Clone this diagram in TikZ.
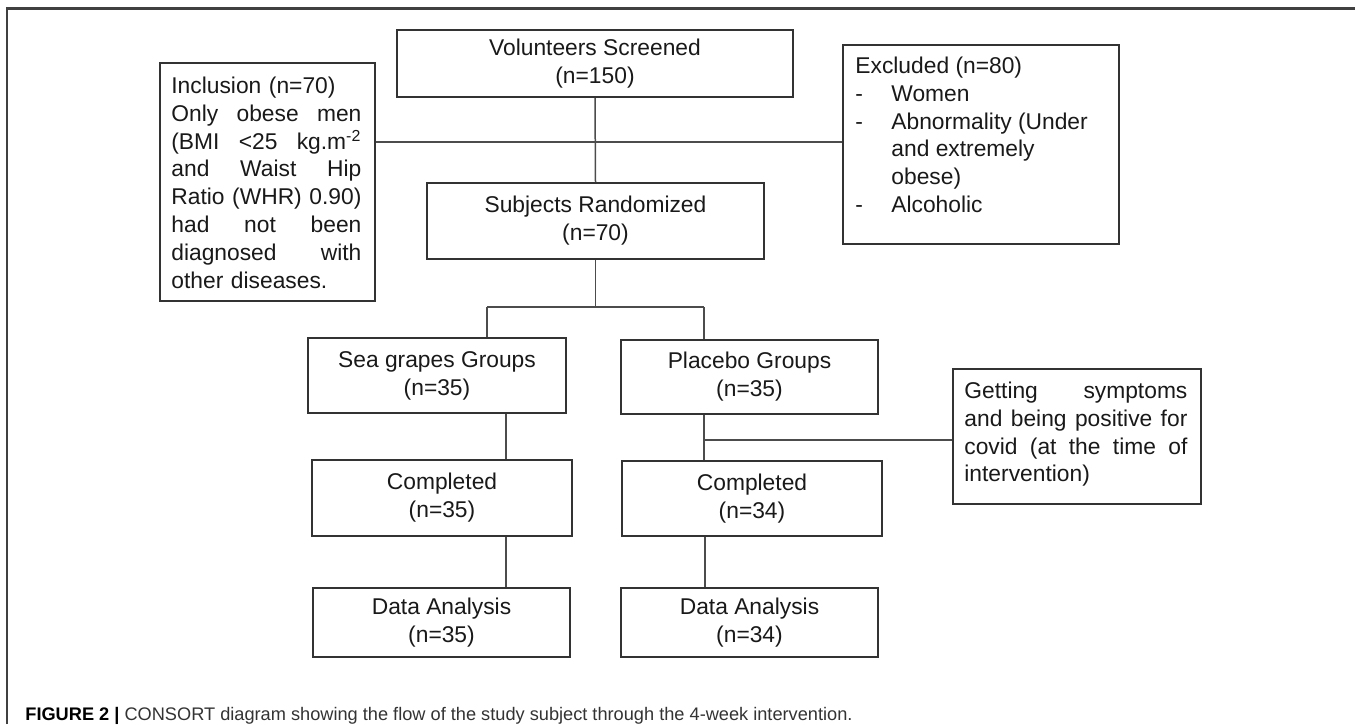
\documentclass[tikz,border=0pt]{standalone}
\usepackage{fontspec}
\setmainfont{Liberation Sans}
\newcommand\jline[2]{\makebox[#1][s]{#2}}
\begin{document}
\begin{tikzpicture}[x=0.5pt,y=-0.5pt,
  box/.style={draw=black!80, line width=1pt, inner sep=0pt, align=center,
    font=\fontsize{11.4}{14}\selectfont, text=black!90},
  frm/.style={draw=black!80, line width=1pt, inner sep=0pt, anchor=north west},
  side/.style={inner sep=0pt, align=left, anchor=north west,
    font=\fontsize{11.4}{13.9}\selectfont, text=black!90},
  conn/.style={draw=black!70, line width=0.75pt},
  outer/.style={draw=black!75, line width=1.2pt}]
\useasboundingbox (0,0) rectangle (1355,724);
% outer frame (top and left)
\draw[outer] (7,724) -- (7,8.5) -- (1355,8.5);

% main boxes
\node[box, minimum width=198pt, minimum height=33.5pt] (vol) at (595,63.5) {Volunteers Screened\\(n=150)};
\node[box, minimum width=168.5pt, minimum height=38pt] (subj) at (595.5,221) {Subjects Randomized\\(n=70)};
\node[box, minimum width=129pt, minimum height=37.5pt] (sea) at (437,375.5) {Sea grapes Groups\\(n=35)};
\node[box, minimum width=128.5pt, minimum height=37pt] (plac) at (749.5,377) {Placebo Groups\\(n=35)};
\node[box, minimum width=130pt, minimum height=38pt] (comp1) at (442,498) {Completed\\(n=35)};
\node[box, minimum width=130pt, minimum height=37.5pt] (comp2) at (752,498.5) {Completed\\(n=34)};
\node[box, minimum width=128.5pt, minimum height=34.5pt] (da1) at (441.5,622.5) {Data Analysis\\(n=35)};
\node[box, minimum width=128.5pt, minimum height=34.5pt] (da2) at (749.5,622.5) {Data Analysis\\(n=34)};

% side boxes
\node[frm, minimum width=107.5pt, minimum height=119pt] (incl) at (159,62) {};
\node[side, text width=95pt] (incltxt) at (171,76.5) {Inclusion (n=70)\\
\jline{95pt}{Only\hfill obese\hfill men}\\
\jline{95pt}{(BMI\hfill <25\hfill kg.m\textsuperscript{-2}}\\
\jline{95pt}{and\hfill Waist\hfill Hip}\\
\jline{95pt}{Ratio\hfill (WHR)\hfill 0.90)}\\
\jline{95pt}{had\hfill not\hfill been}\\
\jline{95pt}{diagnosed\hfill with}\\
other diseases.};

\node[frm, minimum width=138pt, minimum height=99.5pt] (excl) at (842,44) {};
\node[side] (excltxt) at (855,56.5) {Excluded (n=80)\\
\makebox[18pt][l]{-}Women\\
\makebox[18pt][l]{-}Abnormality (Under\\
\hspace*{18pt}and extremely\\
\hspace*{18pt}obese)\\
\makebox[18pt][l]{-}Alcoholic};

\node[frm, minimum width=124pt, minimum height=67.5pt] (covid) at (952,368) {};
\node[side, text width=111.5pt] (covidtxt) at (964,381.5) {\jline{111.5pt}{Getting\hfill symptoms}\\
\jline{111.5pt}{and\hfill being\hfill positive\hfill for}\\
\jline{111.5pt}{covid\hfill (at\hfill the\hfill time\hfill of}\\
intervention)};

% connectors
\coordinate (hj) at (595,142);
\draw[conn] (vol.south) -- (subj.north);
\draw[conn] (incl.east |- hj) -- (excl.west |- hj);

\coordinate (bl) at (487,307);
\coordinate (brr) at (704,307);
\coordinate (bm) at (595.5,307);
\draw[conn] (subj.south) -- (bm);
\draw[conn] (bl) -- (brr);
\draw[conn] (bl) -- (bl |- sea.north);
\draw[conn] (brr) -- (brr |- plac.north);

\coordinate (xa) at (506,0);
\coordinate (xb) at (704,0);
\coordinate (xc) at (705,0);
\draw[conn] (xa |- sea.south) -- (xa |- comp1.north);
\draw[conn] (xb |- plac.south) -- (xb |- comp2.north);
\coordinate (cv) at (704,440);
\draw[conn] (cv) -- (cv -| covid.west);
\draw[conn] (xa |- comp1.south) -- (xa |- da1.north);
\draw[conn] (xc |- comp2.south) -- (xc |- da2.north);

% caption
\node[anchor=base west, inner sep=0pt, text=black!80,
  font=\fontsize{9.1}{11}\selectfont] (cap) at (25,720)
  {\textcolor{black}{\textbf{FIGURE 2 |}} CONSORT diagram showing the flow of the study subject through the 4-week intervention.};
\end{tikzpicture}
\end{document}
